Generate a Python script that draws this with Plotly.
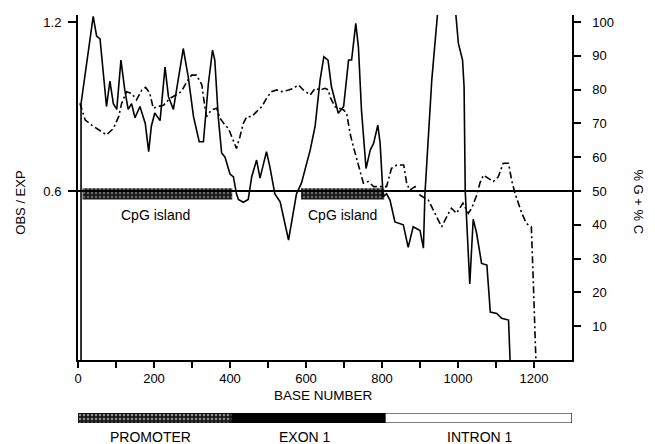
import plotly.graph_objects as go

# ---- data ----
obs_base = [8, 8, 40, 49, 58, 75, 84, 93, 102, 113, 123, 132, 141, 150, 163, 177, 186, 193, 202, 216,
            229, 238, 251, 265, 277, 290, 304, 319, 330, 335, 343, 354, 360, 369, 378, 387, 400, 409,
            417, 422, 435, 448, 457, 470, 479, 496, 505, 518, 532, 554, 575, 588, 611, 624, 637, 647,
            658, 667, 685, 699, 712, 720, 731, 738, 746, 758, 769, 778, 789, 795, 803, 812, 821, 834,
            856, 869, 882, 900, 909, 913, 931, 970, 1001, 1012, 1016, 1019, 1028, 1031, 1040, 1049,
            1062, 1076, 1085, 1102, 1115, 1133, 1137]
obs_vals = [0.0, 0.91, 1.22, 1.15, 1.14, 0.90, 0.99, 0.91, 0.89, 1.065, 0.96, 0.89, 0.91, 0.86, 0.90,
            0.84, 0.74, 0.83, 0.877, 0.85, 1.04, 0.935, 0.89, 1.006, 1.106, 1.006, 0.864, 0.775, 0.775,
            0.852, 0.98, 1.10, 1.065, 0.864, 0.735, 0.72, 0.66, 0.65, 0.59, 0.57, 0.56, 0.57, 0.65,
            0.71, 0.646, 0.74, 0.686, 0.59, 0.562, 0.426, 0.59, 0.628, 0.745, 0.83, 0.994, 1.077,
            1.065, 0.97, 0.876, 0.90, 1.065, 1.065, 1.195, 1.11, 0.887, 0.68, 0.745, 0.77, 0.834,
            0.77, 0.58, 0.59, 0.568, 0.49, 0.48, 0.40, 0.473, 0.46, 0.397, 0.59, 0.994, 1.6, 1.124,
            1.065, 0.97, 0.60, 0.33, 0.27, 0.50, 0.45, 0.343, 0.337, 0.17, 0.165, 0.148, 0.142, 0.0]

gc_base = [5, 19, 36, 58, 75, 93, 107, 115, 128, 141, 154, 168, 178, 189, 198, 211, 225, 242, 256,
           272, 286, 299, 312, 326, 330, 338, 351, 365, 374, 387, 396, 409, 417, 426, 435, 444, 457,
           470, 484, 496, 509, 523, 536, 554, 567, 580, 593, 611, 624, 637, 650, 659, 663, 676, 699,
           707, 716, 725, 738, 751, 764, 778, 812, 825, 839, 857, 865, 873, 887, 900, 922, 940, 957,
           975, 983, 996, 1013, 1027, 1036, 1050, 1058, 1067, 1080, 1093, 1106, 1119, 1133, 1141,
           1150, 1168, 1180, 1193, 1198, 1205]
gc_vals = [76, 71, 69.5, 68, 66.6, 68.5, 72, 76, 79.4, 78.9, 77, 79.9, 80.7, 78.9, 74.5, 75, 75.4,
           77.4, 78.4, 79.4, 82.3, 84.3, 84.3, 81.4, 77.9, 72, 74, 74.5, 71.5, 69.5, 68.5, 64.6, 62.6,
           66, 70, 72, 72, 73.5, 75, 77.4, 79.4, 79.9, 79.4, 79.9, 80.4, 81.4, 79.9, 78.4, 80.4, 79.9,
           80.4, 79.9, 77.9, 75, 74, 73, 67, 63, 57.2, 52.3, 52.8, 51.3, 51.3, 56.7, 57.7, 57.7, 52.3,
           50.3, 51.3, 48.8, 47.3, 43.4, 39.4, 43.4, 44.9, 43.4, 46.4, 43.4, 44.9, 49, 52.5, 54.7,
           53.7, 52.8, 54.2, 58.2, 58.2, 53.3, 49.3, 43.4, 40.4, 39.4, 23.7, 0]

cpg_start = [12, 587]
cpg_end = [406, 806]
cpg_labels = ["CpG island", "CpG island"]
cpg_label_x = [205, 697]

region_names = ["PROMOTER", "EXON 1", "INTRON 1"]
region_start = [0, 406, 808]
region_end = [406, 808, 1300]
region_label_x = [192, 597, 1058]

x_ticks = [0, 100, 200, 300, 400, 500, 600, 700, 800, 900, 1000, 1100, 1200]
x_ticktext = ["0", "", "200", "", "400", "", "600", "", "800", "", "1000", "", "1200"]
left_ticks = [0.6, 1.2]
right_ticks = [10, 20, 30, 40, 50, 60, 70, 80, 90, 100]

FONT = "Liberation Sans, Arial, Helvetica, sans-serif"

fig = go.Figure()

# CpG island bars
fig.add_trace(go.Bar(
    y=[0.59] * len(cpg_start), base=cpg_start,
    x=[e - s for s, e in zip(cpg_start, cpg_end)],
    orientation="h", width=0.04,
    marker=dict(color="#1a1a1a", line=dict(width=0),
                pattern=dict(shape=".", fgcolor="#b0b0b0", size=4, solidity=0.3)),
    xaxis="x", yaxis="y", showlegend=False, hoverinfo="skip"))

# Gene structure bar
fig.add_trace(go.Bar(
    y=[0] * len(region_start), base=region_start,
    x=[e - s for s, e in zip(region_start, region_end)],
    orientation="h", width=1,
    marker=dict(color=["#1a1a1a", "#000000", "#ffffff"], line=dict(color="black", width=1.2),
                pattern=dict(shape=[".", "", ""], fgcolor="#b0b0b0", size=4, solidity=0.3)),
    xaxis="x", yaxis="y3", showlegend=False, hoverinfo="skip"))

# OBS/EXP solid line
fig.add_trace(go.Scatter(x=obs_base, y=obs_vals, mode="lines",
                         line=dict(color="black", width=1.6),
                         xaxis="x", yaxis="y", showlegend=False, hoverinfo="skip"))

# %G+%C dash-dot line
fig.add_trace(go.Scatter(x=gc_base, y=gc_vals, mode="lines",
                         line=dict(color="black", width=1.6, dash="7px,3px,2px,3px"),
                         xaxis="x", yaxis="y2", showlegend=False, hoverinfo="skip"))

annotations = []
for lx, lt in zip(cpg_label_x, cpg_labels):
    annotations.append(dict(x=lx, y=0.515, xref="x", yref="y", text=lt, showarrow=False,
                            xanchor="center", yanchor="middle",
                            font=dict(size=14, color="black", family=FONT)))
for lx, lt in zip(region_label_x, region_names):
    annotations.append(dict(x=lx, y=0.0163, xref="x", yref="paper", text=lt, showarrow=False,
                            xanchor="center", yanchor="middle",
                            font=dict(size=14, color="black", family=FONT)))
annotations += [
    dict(x=645, y=0.114, xref="x", yref="paper", text="BASE NUMBER", showarrow=False,
         xanchor="center", yanchor="middle",
         font=dict(size=13.5, color="black", family=FONT)),
    dict(x=-0.117, y=0.563, xref="paper", yref="paper", text="OBS / EXP", showarrow=False,
         xanchor="center", yanchor="middle",
         textangle=-90, font=dict(size=13, color="black", family=FONT)),
    dict(x=1.134, y=0.565, xref="paper", yref="paper", text="% G + % C", showarrow=False,
         xanchor="center", yanchor="middle",
         textangle=90, font=dict(size=13, color="black", family=FONT)),
]

fig.update_layout(
    width=655, height=444,
    margin=dict(l=78, r=83, t=15, b=0, autoexpand=False),
    paper_bgcolor="white", plot_bgcolor="white",
    barmode="overlay",
    font=dict(family=FONT, size=13, color="black"),
    xaxis=dict(range=[0, 1300], tickvals=x_ticks, ticktext=x_ticktext, ticks="outside",
               ticklen=6, tickwidth=1.5, tickcolor="black", showline=True, linecolor="black",
               linewidth=1.5, showgrid=False, zeroline=False, anchor="y",
               tickfont=dict(size=13, family=FONT)),
    yaxis=dict(range=[0, 1.225], domain=[0.1958, 1], tickvals=left_ticks,
               ticktext=["0.6", "1.2"], ticks="outside", ticklen=8, tickwidth=1.5,
               tickcolor="black", showline=True, linecolor="black", linewidth=2,
               showgrid=False, zeroline=False, anchor="x", ticklabelstandoff=4,
               tickfont=dict(size=13, family=FONT)),
    yaxis2=dict(range=[0, 102.08], overlaying="y", side="right", anchor="x",
                tickvals=right_ticks, ticks="outside", ticklen=7, tickwidth=1.5,
                tickcolor="black", showline=True, linecolor="black", linewidth=1.5,
                showgrid=False, zeroline=False, ticklabelstandoff=9,
                tickfont=dict(size=13, family=FONT)),
    yaxis3=dict(range=[-0.5, 0.5], domain=[0.049, 0.0723], visible=False, anchor="x",
                fixedrange=True),
    shapes=[dict(type="line", xref="paper", yref="y", x0=0, x1=1, y0=0.6, y1=0.6,
                 line=dict(color="black", width=2))],
    annotations=annotations,
)

fig.write_html("out.html", config={"displayModeBar": False},
               post_script="document.body.style.margin='0';document.body.style.padding='0';")
